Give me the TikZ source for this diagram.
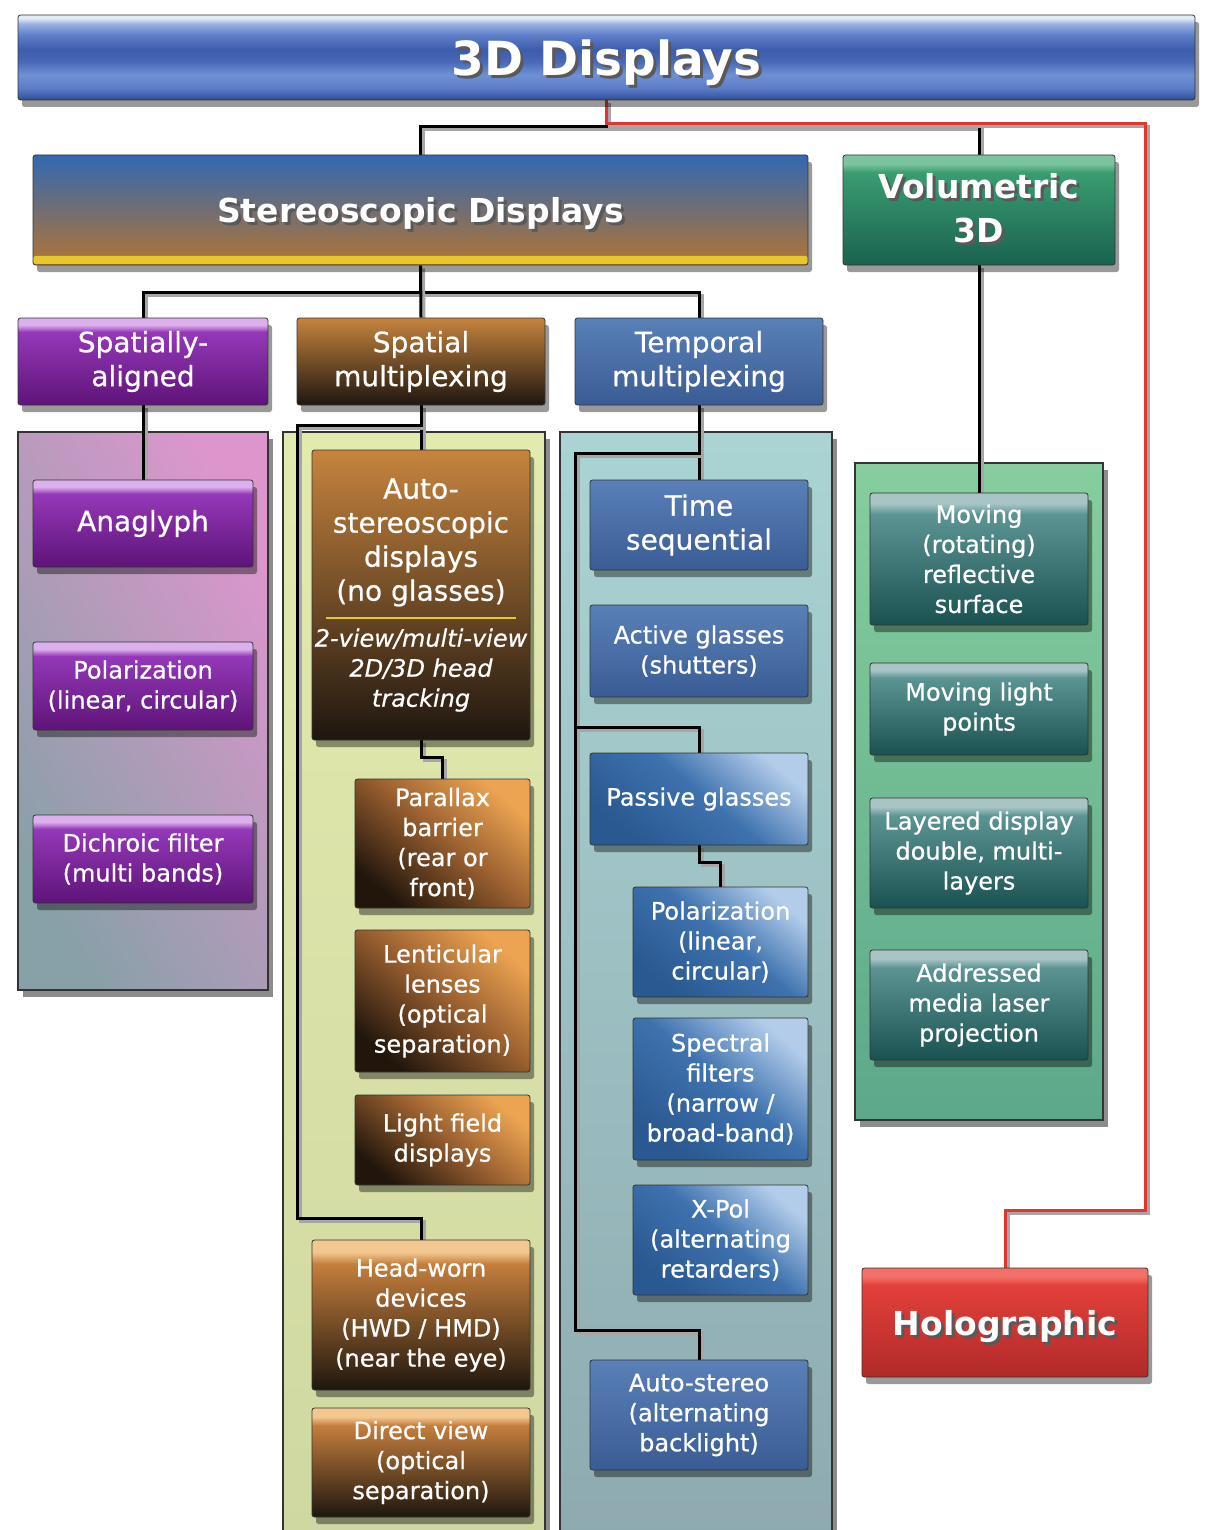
\documentclass[tikz,border=0pt]{standalone}
\usepackage{fontspec}
\setmainfont{DejaVu Sans}
\newfontfamily\boxfamily{DejaVu Sans}[FakeBold=0.6]
\usetikzlibrary{shadows}

\newcommand{\titlefont}{\fontsize{47}{52}\selectfont\bfseries}
\newcommand{\bigfont}{\fontsize{33}{44}\selectfont\bfseries}
\newcommand{\headfont}{\boxfamily\fontsize{28}{34}\selectfont}
\newcommand{\bodyfont}{\boxfamily\fontsize{24}{30}\selectfont}
\newcommand{\txtsh}[2][3pt]{\leavevmode\rlap{\kern#1\raisebox{-#1}{\textcolor{black!65}{#2}}}#2}
\newcommand{\itl}[1]{{\fontsize{24}{30}\selectfont\itshape #1}}

\definecolor{barA}{HTML}{2C4A90}
\definecolor{barB}{HTML}{3E5EA8}
\definecolor{barC}{HTML}{5C7CC8}
\definecolor{barD}{HTML}{7090D4}
\definecolor{barE}{HTML}{4A6AB8}
\definecolor{barF}{HTML}{3C5CAC}
\definecolor{barG}{HTML}{5E7ECA}
\definecolor{barH}{HTML}{9AB0E2}
\definecolor{barI}{HTML}{E4EBF8}
\definecolor{glA}{HTML}{FFFFFF}
\definecolor{glB}{HTML}{888888}
\definecolor{glC}{HTML}{000000}
\definecolor{dgA}{HTML}{FFFFFF}
\definecolor{dgB}{HTML}{888888}
\definecolor{dgC}{HTML}{000000}
\definecolor{gold}{HTML}{E6C82A}
\definecolor{wirered}{HTML}{E0362E}

\pgfdeclareverticalshading{barshade}{100bp}{color(0bp)=(barA); color(25bp)=(barA);
  color(27.4bp)=(barB); color(32bp)=(barC); color(39.7bp)=(barD); color(47.4bp)=(barE);
  color(54.4bp)=(barF); color(63.2bp)=(barG); color(69.7bp)=(barH); color(73.2bp)=(barI);
  color(100bp)=(barI)}
\pgfdeclareverticalshading[glA,glB,glC]{gloss}{100bp}{color(0bp)=(glC); color(25bp)=(glC);
  color(67bp)=(glB); color(71bp)=(glA); color(75bp)=(glA); color(100bp)=(glA)}
\pgfdeclareverticalshading[dgA,dgB,dgC]{diag}{100bp}{color(0bp)=(dgC); color(25bp)=(dgC);
  color(52bp)=(dgB); color(75bp)=(dgA); color(100bp)=(dgA)}

\pgfdeclarelayer{panels}
\pgfdeclarelayer{wires}
\pgfsetlayers{panels,wires,main}

\begin{document}
\begin{tikzpicture}[x=1pt,y=-1pt,
  box/.style={draw=black!80, line width=.8pt, rounded corners=2.5pt, align=center,
    text=white, inner sep=0pt, font=\bodyfont,
    drop shadow={shadow xshift=4pt, shadow yshift=-7pt, opacity=.4, fill=black}},
  sz/.style 2 args={minimum width=#1pt, minimum height=#2pt},
  gl/.code n args={3}{\definecolor{glA}{HTML}{#1}\definecolor{glB}{HTML}{#2}\definecolor{glC}{HTML}{#3}},
  dg/.code n args={3}{\definecolor{dgA}{HTML}{#1}\definecolor{dgB}{HTML}{#2}\definecolor{dgC}{HTML}{#3}},
  glossy/.style n args={3}{gl={#1}{#2}{#3}, shade, shading=gloss},
  slanted/.style n args={3}{dg={#1}{#2}{#3}, shade, shading=diag, shading angle=-40},
  bar/.style={shade, shading=barshade, text depth=0pt},
  stereo/.style={top color=stA, middle color=stB, bottom color=stC, text depth=0pt,
    path picture={\fill[gold] ([yshift=1pt]path picture bounding box.south west)
      rectangle ([yshift=9pt]path picture bounding box.south east);}},
  volume/.style={glossy={7CC4A0}{3A9C70}{1A6250}},
  holo/.style={glossy={F27068}{E2403A}{B02A2A}, text depth=0pt},
  purp/.style={glossy={DCB0EC}{9438B8}{5E1478}},
  brownv/.style={top color=brA, middle color=brB, bottom color=brC},
  browng/.style={glossy={F2C890}{C47E3C}{1E160E}},
  brownd/.style={slanted={ECA452}{9A6030}{22160C}},
  bluev/.style={top color=blA, middle color=blB, bottom color=blC},
  blued/.style={slanted={B2CCEA}{3E72AE}{2A5890}},
  teal/.style={glossy={A8C4C4}{5C9494}{1A5252}},
  panel/.style={draw=black!80, line width=1.2pt,
    drop shadow={shadow xshift=5pt, shadow yshift=-7pt, opacity=.45, fill=black}},
  wire/.style={draw=black, line width=3pt,
    preaction={draw=black!35, line width=3pt, transform canvas={shift={(3pt,-3pt)}}}},
  redwire/.style={wire, draw=wirered}]

\definecolor{stA}{HTML}{3268B2}
\definecolor{stB}{HTML}{7A7C88}
\definecolor{stC}{HTML}{B27432}
\definecolor{brA}{HTML}{C6843E}
\definecolor{brB}{HTML}{7A4E26}
\definecolor{brC}{HTML}{1E1610}
\definecolor{blA}{HTML}{5A80B8}
\definecolor{blB}{HTML}{88A8D8}
\definecolor{blC}{HTML}{3A5C94}
\definecolor{ppA}{HTML}{DC96CC}
\definecolor{ppB}{HTML}{88A0A8}
\definecolor{ylA}{HTML}{E2EAAE}
\definecolor{ylB}{HTML}{D0D8A2}
\definecolor{cyA}{HTML}{AAD4D4}
\definecolor{cyB}{HTML}{8EAAB0}
\definecolor{gnA}{HTML}{86CE9E}
\definecolor{gnB}{HTML}{5CA88A}

\useasboundingbox (0,0) rectangle (1204,1530);

% headers
\node[box, bar, sz={1177}{85}, font=\titlefont] (top) at (606.5,57.5) {\txtsh{3D Displays}};
\node[box, stereo, sz={775}{110}, font=\bigfont] (stereo) at (420.5,210) {\txtsh{Stereoscopic Displays}};
\node[box, volume, sz={272}{110}, font=\bigfont] (vol) at (979,210) {\txtsh{Volumetric}\\\txtsh{3D}};
\node[box, holo, sz={286}{109}, font=\bigfont] (holo) at (1005,1322.5) {\txtsh{Holographic}};

% second level
\node[box, purp, sz={250}{87}, font=\headfont] (spal) at (143,361.5) {Spatially-\\aligned};
\node[box, brownv, sz={248}{87}, font=\headfont] (smux) at (421,361.5) {Spatial\\multiplexing};
\node[box, bluev, sz={248}{87}, font=\headfont] (tmux) at (699,361.5) {Temporal\\multiplexing};

% spatially aligned
\node[box, purp, sz={220}{87}, font=\headfont] (anag) at (143,523.5) {Anaglyph};
\node[box, purp, sz={220}{88}] (ppol) at (143,686) {Polarization\\(linear, circular)};
\node[box, purp, sz={220}{88}] (dich) at (143,859) {Dichroic filter\\(multi bands)};

% spatial multiplexing
\node[box, brownv, sz={218}{290}, font=\headfont] (auto) at (421,595)
  {Auto-\\stereoscopic\\displays\\(no glasses)\\[-16pt]\textcolor{gold}{\rule{190pt}{2pt}}\\[-6pt]
   \itl{2-view/multi-view}\\[-4pt]\itl{2D/3D head}\\[-4pt]\itl{tracking}};
\node[box, brownd, sz={175}{129}] (parx) at (442.5,843.5) {Parallax\\barrier\\(rear or\\front)};
\node[box, brownd, sz={175}{142}] (lent) at (442.5,1001) {Lenticular\\lenses\\(optical\\separation)};
\node[box, brownd, sz={175}{90}] (lfd) at (442.5,1140) {Light field\\displays};
\node[box, browng, sz={218}{150}] (hwd) at (421,1315) {Head-worn\\devices\\(HWD / HMD)\\(near the eye)};
\node[box, browng, sz={218}{109}] (dirv) at (421,1462.5) {Direct view\\(optical\\separation)};

% temporal multiplexing
\node[box, bluev, sz={218}{90}, font=\headfont] (tseq) at (699,525) {Time\\sequential};
\node[box, bluev, sz={218}{92}] (actg) at (699,651) {Active glasses\\(shutters)};
\node[box, blued, sz={218}{92}] (pasg) at (699,799) {Passive glasses};
\node[box, blued, sz={175}{110}] (bpol) at (720.5,942) {Polarization\\(linear,\\circular)};
\node[box, blued, sz={175}{142}] (spec) at (720.5,1089) {Spectral\\filters\\(narrow /\\broad-band)};
\node[box, blued, sz={175}{110}] (xpol) at (720.5,1240) {X-Pol\\(alternating\\retarders)};
\node[box, bluev, sz={218}{110}] (aust) at (699,1415) {Auto-stereo\\(alternating\\backlight)};

% volumetric
\node[box, teal, sz={218}{132}] (movr) at (979,559) {Moving\\(rotating)\\reflective\\surface};
\node[box, teal, sz={218}{92}] (movl) at (979,709) {Moving light\\points};
\node[box, teal, sz={218}{110}] (layd) at (979,853) {Layered display\\double, multi-\\layers};
\node[box, teal, sz={218}{110}] (addr) at (979,1005) {Addressed\\media laser\\projection};

\begin{pgfonlayer}{panels}
\draw[panel, top color=ppA, bottom color=ppB, shading angle=-60] (18,432) rectangle (268,990);
\draw[panel, top color=ylA, bottom color=ylB] (283,432) rectangle (545,1540);
\draw[panel, top color=cyA, bottom color=cyB] (560,432) rectangle (832,1540);
\draw[panel, top color=gnA, bottom color=gnB] (855,463) rectangle (1103,1120);
\end{pgfonlayer}

\coordinate (sj) at (420,292);
\coordinate (ys) at (297,425);
\coordinate (yb) at (297,1218);
\coordinate (bs) at (575,453);
\coordinate (bm) at (575,727);
\coordinate (bb) at (575,1330);
\coordinate (rs) at (1145,124);
\coordinate (rb) at (1145,1210);

\begin{pgfonlayer}{wires}
\draw[wire] (stereo.north) -- ++(0,-28) -| (vol.north);
\draw[wire] (spal.north) |- (sj) -| (tmux.north);
\draw[wire] (stereo.south) -- (smux.north);
\draw[wire] (vol.south) -- (movr.north);
\draw[wire] (spal.south) -- (anag.north);
\draw[wire] (smux.south) -- (auto.north);
\draw[wire] (smux.south |- ys) -- (ys) -- (yb) -| (hwd.north);
\draw[wire] (auto.south) -- ++(0,17) -| (parx.north);
\draw[wire] (tmux.south) -- (tseq.north);
\draw[wire] (tmux.south |- bs) -- (bs) -- (bb) -| (aust.north);
\draw[wire] (bm) -| (pasg.north);
\draw[wire] (pasg.south) -- ++(0,17) -| (bpol.north);
\draw[redwire] (top.south) |- (rs) -- (rb) -| (holo.north);
\end{pgfonlayer}
\end{tikzpicture}
\end{document}
